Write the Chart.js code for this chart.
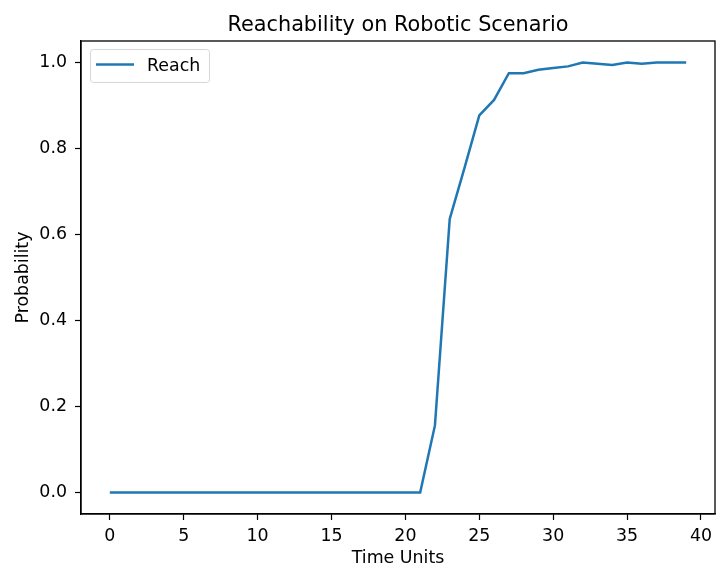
<!DOCTYPE html>
<html>
<head>
<meta charset="utf-8">
<script src="https://cdn.jsdelivr.net/npm/chart.js@4"></script>
<style>
  html, body { margin: 0; padding: 0; background: #fff; }
  #wrap { width: 716px; height: 575px; }
</style>
</head>
<body>
<div id="wrap"><canvas id="reachChart" width="716" height="575"></canvas></div>
<script>
// Données
const timeUnits = [0, 1, 2, 3, 4, 5, 6, 7, 8, 9, 10, 11, 12, 13, 14, 15, 16, 17, 18, 19,
                   20, 21, 22, 23, 24, 25, 26, 27, 28, 29, 30, 31, 32, 33, 34, 35, 36, 37, 38, 39];
const reachValues = [0, 0, 0, 0, 0, 0, 0, 0, 0, 0, 0, 0, 0, 0, 0, 0, 0, 0, 0, 0,
                     0, 0, 0.156, 0.636, 0.755, 0.877, 0.913, 0.975, 0.975, 0.983, 0.987, 0.991,
                     1.0, 0.997, 0.994, 1.0, 0.997, 1.0, 1.0, 1.0];
const xTicks = [0, 5, 10, 15, 20, 25, 30, 35, 40];
const yTicks = [0, 0.2, 0.4, 0.6, 0.8, 1.0];

const FONT = "'DejaVu Sans', sans-serif";
const TICK_SIZE = 17.4;
const TITLE_SIZE = 20.8;

// Cadre complet, titre centré sur les axes, légende dans la zone du graphique
const framePlugin = {
    id: 'frame',
    afterDraw(chart) {
        const { ctx, chartArea: a } = chart;
        ctx.save();
        ctx.strokeStyle = '#000';
        ctx.lineWidth = 1.3;
        ctx.strokeRect(a.left, a.top, a.right - a.left, a.bottom - a.top);

        // Titre
        ctx.fillStyle = '#000';
        ctx.font = TITLE_SIZE + 'px ' + FONT;
        ctx.textAlign = 'center';
        ctx.textBaseline = 'alphabetic';
        ctx.fillText('Reachability on Robotic Scenario', (a.left + a.right) / 2, a.top - 10);

        // Légende
        const lx = a.left + 9, ly = a.top + 8, lw = 119, lh = 33;
        ctx.fillStyle = 'rgba(255,255,255,0.8)';
        ctx.strokeStyle = '#d6d6d6';
        ctx.lineWidth = 1;
        ctx.beginPath();
        ctx.roundRect(lx + 0.5, ly + 0.5, lw, lh, 3);
        ctx.fill();
        ctx.stroke();
        ctx.strokeStyle = '#1f77b4';
        ctx.lineWidth = 2.5;
        ctx.beginPath();
        ctx.moveTo(lx + 6, ly + 15.5);
        ctx.lineTo(lx + 44, ly + 15.5);
        ctx.stroke();
        ctx.fillStyle = '#000';
        ctx.font = TICK_SIZE + 'px ' + FONT;
        ctx.textAlign = 'left';
        ctx.fillText(chart.data.datasets[0].label, lx + 57, ly + 22);
        ctx.restore();
    }
};

new Chart(document.getElementById('reachChart'), {
    type: 'line',
    data: {
        datasets: [{
            label: 'Reach',
            data: timeUnits.map((t, i) => ({ x: t, y: reachValues[i] })),
            borderColor: '#1f77b4',
            borderWidth: 2.5,
            pointRadius: 0,
            tension: 0,
            fill: false
        }]
    },
    options: {
        responsive: false,
        animation: false,
        layout: { padding: { left: 0, right: 1, top: 41, bottom: 0 } },
        plugins: {
            legend: { display: false },
            tooltip: { enabled: false },
            title: { display: false }
        },
        scales: {
            x: {
                type: 'linear',
                min: -1.95,
                max: 40.95,
                afterBuildTicks: s => { s.ticks = xTicks.map(v => ({ value: v })); },
                afterFit: s => { s.height = 61; s.paddingLeft = 0; s.paddingRight = 0; },
                grid: { drawOnChartArea: false, drawTicks: true, tickLength: 6, tickColor: '#000', tickWidth: 1.2 },
                border: { color: '#000', width: 1.3 },
                ticks: {
                    color: '#000',
                    font: { family: FONT, size: TICK_SIZE },
                    padding: 6,
                    maxRotation: 0,
                    callback: v => String(v)
                },
                title: {
                    display: true,
                    text: 'Time Units',
                    color: '#000',
                    font: { family: FONT, size: TICK_SIZE },
                    padding: { top: 0, bottom: 6 }
                }
            },
            y: {
                type: 'linear',
                min: -0.05,
                max: 1.05,
                afterBuildTicks: s => { s.ticks = yTicks.map(v => ({ value: v })); },
                afterFit: s => { s.width = 81; s.paddingTop = 0; s.paddingBottom = 0; },
                grid: { drawOnChartArea: false, drawTicks: true, tickLength: 6, tickColor: '#000', tickWidth: 1.2 },
                border: { color: '#000', width: 1.3 },
                ticks: {
                    color: '#000',
                    font: { family: FONT, size: TICK_SIZE },
                    padding: 8,
                    callback: v => v.toFixed(1)
                },
                title: {
                    display: true,
                    text: 'Probability',
                    color: '#000',
                    font: { family: FONT, size: TICK_SIZE },
                    padding: { top: 13, bottom: 0 }
                }
            }
        }
    },
    plugins: [framePlugin]
});
</script>
</body>
</html>
